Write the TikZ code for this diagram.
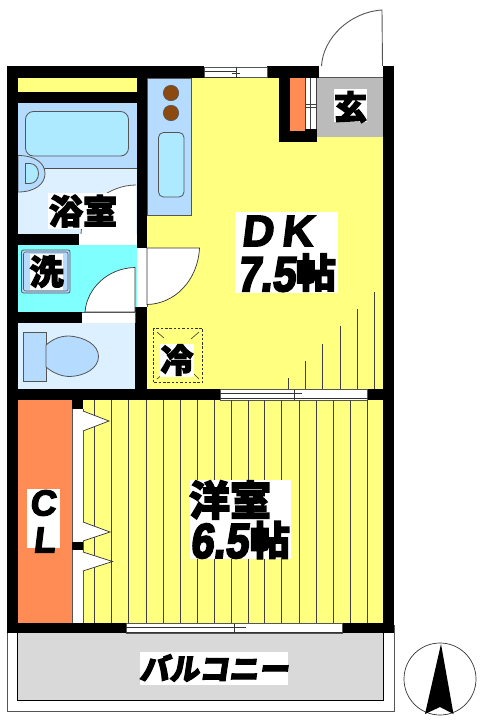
\documentclass[tikz,border=0pt]{standalone}
\usepackage{fontspec}
\newfontfamily\jp[BoldFeatures={FakeBold=3.5}]{Noto Sans CJK JP}
\newfontfamily\jps[BoldFeatures={FakeBold=3.5,FakeSlant=.15}]{Noto Sans CJK JP}
\newfontfamily\lat[BoldFeatures={FakeBold=3.5,FakeSlant=.12}]{Liberation Sans}
\newfontfamily\latn[BoldFeatures={FakeBold=4,FakeSlant=.12,FakeStretch=.85}]{Liberation Sans}
\newcommand{\fsz}[1]{\fontsize{#1}{#1}\selectfont}
\definecolor{yel}{HTML}{FFFF80}
\definecolor{pale}{HTML}{DDF0FF}
\definecolor{mid}{HTML}{B5DBFF}
\definecolor{tub}{HTML}{ADE9FF}
\definecolor{cyanw}{HTML}{80FFFF}
\definecolor{org}{HTML}{FF8C55}
\definecolor{brn}{HTML}{8B4A10}
\definecolor{gen}{HTML}{BBBBBB}
\definecolor{bal}{HTML}{D9D9D9}
\definecolor{edge}{HTML}{555555}
\tikzset{
  wall/.style={fill=black,draw=none},
  winbox/.style={fill=white,draw=edge,line width=.6},
  thin/.style={draw=edge,line width=.8},
  fixture/.style={draw=edge,line width=.8},
  stripe/.style={draw=black!75,line width=.9},
  lbl/.style={text=black,inner sep=0pt,anchor=center},
  tagbox/.style={fill=white,inner sep=0pt},
}
\begin{document}
\begin{tikzpicture}[x=1pt,y=-1pt]
\useasboundingbox (0,0) rectangle (481,720);
\fill[white] (0,0) rectangle (481,720);
% balcony
\draw[fill=white,draw=edge,line width=.8] (7,625) rectangle (394,711);
\draw[fill=bal,draw=black,line width=.7] (17.5,625) rectangle (383,700);
% floors
\fill[yel] (147,78) rectangle (383,389);
\fill[yel] (83,400) rectangle (383,623);
\fill[yel] (18,78) rectangle (137,92);
\fill[gen] (317,78) rectangle (383,137);
\fill[mid] (18,103) rectangle (137,168);
\fill[pale] (18,168) rectangle (137,234);
\draw[black!70,line width=.6] (18,168) -- (137,168);
\fill[cyanw] (18,245) rectangle (137,312);
\fill[pale] (18,323) rectangle (137,389);
\fill[org] (18,400) rectangle (72,623);
% kitchen counter
\draw[fill=mid,draw=edge,line width=.7] (147,78) rectangle (191.5,215);
\draw[fill=brn,draw=edge,line width=.6] (171,93) circle (7.7);
\draw[fill=brn,draw=edge,line width=.6] (171,113) circle (7.7);
\draw[fill=tub,fixture,rounded corners=5] (158.5,132.5) rectangle (184,197);
% tub
\draw[fill=tub,fixture,rounded corners=8] (25.5,111.5) rectangle (128.5,156);
% basin
\draw[fill=mid,fixture] (18,155.5) .. controls (35,155.5) and (45,163) .. (45,173.5) .. controls (45,184) and (35,192) .. (18,192) -- cycle;
\draw[fill=tub,fixture] (25.5,163.5) -- (30,163.5) .. controls (35,163.5) and (38.5,168) .. (38.5,173.5) .. controls (38.5,179) and (35,183.5) .. (30,183.5) -- (25.5,183.5) -- cycle;
% bath door
\draw[fill=white,draw=none] (136,234) -- (81,234) -- (81,226) .. controls (88,200) and (110,185) .. (136,185) -- cycle;
\draw[thin] (81,234) .. controls (82,205) and (110,185) .. (136,185);
% toilet
\draw[fill=mid,fixture] (23.5,332.5) rectangle (46,381.5);
\draw[fill=mid,fixture] (46,345) .. controls (53,339) and (60,336) .. (69,336) .. controls (85,337) and (98.5,345) .. (98.5,356.5) .. controls (98.5,368) and (85,376) .. (70,376.5) .. controls (60,376.5) and (52,372) .. (46,367) -- cycle;
% walls
\fill[wall] (7,66) rectangle (204,78);
\fill[wall] (267,66) rectangle (319,78);
\fill[wall] (383,66) rectangle (394,633);
\fill[wall] (7,66) rectangle (18,633);
\fill[wall] (7,623) rectangle (126,633);
\fill[wall] (343,623) rectangle (394,633);
\fill[wall] (18,92) rectangle (137,103);
\fill[wall] (137,78) rectangle (147,248);
\fill[wall] (135,306.5) rectangle (147,400);
\fill[wall] (18,234) rectangle (79,245);
\fill[wall] (18,312) rectangle (82,323);
\fill[wall] (7,389) rectangle (220,400);
\fill[wall] (368,389) rectangle (394,400);
\fill[wall] (72,400) rectangle (83,409);
% shoe closet
\fill[wall] (279,78) rectangle (317,142);
\fill[org] (290,78) rectangle (305,131);
\fill[white] (305,78) rectangle (317,128.5);
\draw[black!75,line width=.6] (305.5,78) -- (305.5,128.5) (310,78) -- (310,128.5) (316,78) -- (316,128.5) (306,104) -- (316,104) (306,107) -- (316,107);
% entry door
\fill[white] (319,67) rectangle (383,77);
\draw[edge,line width=.7] (319,77.5) -- (383,77.5);
\draw[edge,line width=.9] (321.5,66) .. controls (323,38) and (350,12) .. (382,10) -- (382.5,66);
% windows
\draw[winbox] (204,67) rectangle (267,77);
\draw[black!80,line width=.6] (204,71) -- (236,71) (204,77) -- (240,77) (236,67) -- (236,77) (232,73) -- (240,73);
\draw[winbox] (220,389.5) rectangle (367.5,400);
\draw[black!80,line width=.7] (220,393) -- (302,393) (286,398) -- (367.5,398) (294,390) -- (294,400) (220,398) -- (292,398);
\draw[winbox] (126,623.5) rectangle (342.5,633);
\draw[black!80,line width=.7] (126,627) -- (246,627) (224,632) -- (342.5,632) (234.5,623.5) -- (234.5,633) (126,632) -- (240,632);
% door openings
\fill[white] (79,234.5) rectangle (137,245);
\fill[white] (82,312) rectangle (135,322);
\draw[edge,line width=.6] (82,312) -- (135,312) (135,312) -- (135,323);
\fill[white] (137,248) rectangle (147,306.5);
\draw[edge,line width=.7] (147,248) -- (147,306.5);
\draw[fill=white,draw=black!80,line width=.7] (147,248) -- (199.5,248) .. controls (198,280) and (175,304) .. (147,304.5) -- cycle;
\draw[fill=white,draw=black!80,line width=.7] (135,312) -- (85,312) .. controls (87,288) and (108,268) .. (135,267.5) -- cycle;
% laundry machine
\draw[fill=mid,draw=edge,line width=.8,rounded corners=2] (21.5,250) rectangle (70,293);
\draw[draw=edge,line width=.6,rounded corners=2] (23.5,252) rectangle (68,291);
\node[tagbox,minimum width=33,minimum height=36] (senbox) at (46.5,271.5) {};
\node[lbl,font=\jp\bfseries\fsz{34}] (sen) at (46.5,271.5) {洗};
% fridge
\draw[black!80,line width=.7,dash pattern=on 2.5pt off 1.8pt] (153,328) rectangle (202.5,382.5);
\draw[black!80,line width=.6] (157,332) -- (164,338) (199,332) -- (191,339) (157,379) -- (164,373) (199,379) -- (193,373);
\node[tagbox,minimum width=34,minimum height=33] (reibox) at (177,360) {};
\node[lbl,font=\jp\bfseries\fsz{33}] (rei) at (177,360) {冷};
% genkan
\node[tagbox,minimum width=33,minimum height=33] (genbox) at (350.5,105.5) {};
\node[lbl,font=\jp\bfseries\fsz{33}] (genk) at (350.5,107) {玄};
% bath label
\node[tagbox,minimum width=70,minimum height=36] (yokubox) at (83,211) {};
\node[lbl,font=\jp\bfseries\fsz{34}] (yoku) at (83,211) {浴室};
% stripes
\foreach \x in {94.7,111.5,128.7,146,163,180,197,214,231,248,264.5,281.5,299,316,333.5,350.5,367.5}
  \draw[stripe] (\x,400) -- (\x,623);
\foreach \x/\t in {288.7/378,305.3/361,322.7/344,340.3/326,357/309,374.3/292}
  \draw[stripe] (\x,\t) -- (\x,389);
% closet
\fill[white] (72,409) rectangle (83,623);
\draw[edge,line width=.6] (72,409) -- (72,623) (83,409) -- (83,623);
\fill[wall] (72,542) rectangle (83,550);
\draw[fill=white,draw=black!80,line width=.7] (83,411) -- (109,421) -- (83,431);
\draw[fill=white,draw=black!80,line width=.7] (83,522) -- (110,532) -- (83,541);
\draw[fill=white,draw=black!80,line width=.7] (83,552) -- (112.5,561.5) -- (83,571);
\node[tagbox,minimum width=33,minimum height=59] (clbox) at (43.5,518.5) {};
\node[lbl,font=\lat\bfseries\fsz{36}] (clc) at (42.5,503) {C};
\node[lbl,font=\lat\bfseries\fsz{36}] (cll) at (44,540) {L};
% DK label
\node[tagbox,minimum width=103,minimum height=81] (dkbox) at (286.5,252.5) {};
\node[lbl,font=\lat\bfseries\fsz{44}] (dkd) at (257,231) {D};
\node[lbl,font=\lat\bfseries\fsz{44}] (dkk) at (297,231) {K};
\node[lbl,font=\latn\bfseries\fsz{49}] (dkn) at (266,274.5) {7.5};
\node[lbl,font=\jp\bfseries\fsz{40}] (dkj) at (316,272.5) {帖};
% western room
\node[tagbox,minimum width=101,minimum height=79] (yobox) at (240,519.5) {};
\node[lbl,font=\jp\bfseries\fsz{41}] (yo) at (230,500) {洋室};
\node[lbl,font=\latn\bfseries\fsz{49}] (yon) at (219,541) {6.5};
\node[lbl,font=\jp\bfseries\fsz{40}] (yoj) at (270,540) {帖};
% balcony label
\node[tagbox,minimum width=148,minimum height=33] (balbox) at (214,668.5) {};
\node[lbl,font=\jps\bfseries\fsz{30}] (balt) at (214,668) {バルコニー};
% compass
\draw[black!80,line width=.7] (440,679) circle (36);
\fill[black] (441,644) -- (453.5,714) -- (440,707) -- (425,714) -- cycle;
\end{tikzpicture}
\end{document}
